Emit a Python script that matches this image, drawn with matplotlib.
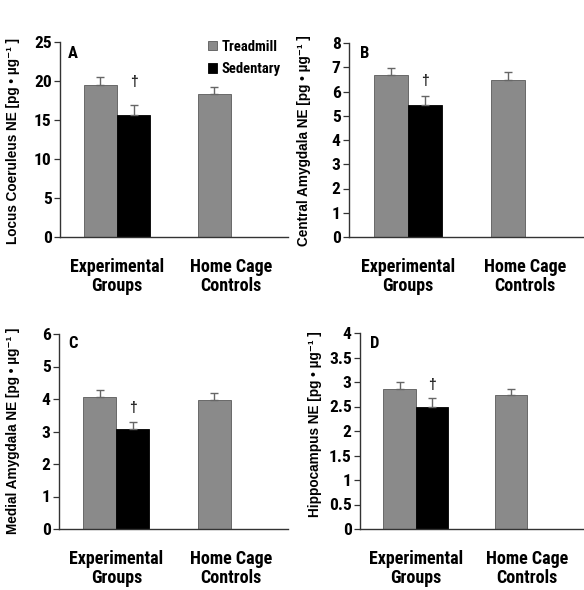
import matplotlib
matplotlib.use("Agg")
import matplotlib.pyplot as plt
from matplotlib.font_manager import FontProperties
import numpy as np

# ---- data -------------------------------------------------------------
groups = ["Experimental\nGroups", "Home Cage\nControls"]
series = ["Treadmill", "Sedentary"]

regions = ["Locus Coeruleus", "Central Amygdala", "Medial Amygdala", "Hippocampus"]
letters = ["A", "B", "C", "D"]
ymax = [25, 8, 6, 4]
ysteps = [5, 1, 1, 0.5]

# mean NE per group; sedentary exists only for the experimental group
treadmill_mean = [[19.5, 18.3], [6.67, 6.49], [4.07, 3.97], [2.85, 2.73]]
treadmill_sem = [[0.95, 0.95], [0.30, 0.31], [0.21, 0.21], [0.15, 0.13]]
sedentary_mean = [15.7, 5.43, 3.09, 2.48]
sedentary_sem = [1.2, 0.37, 0.21, 0.19]

# ---- style ------------------------------------------------------------
W, H = 584, 590
GRAY = "#8a8a8a"
EDGE = "#5a5a5a"
NARROW = ["Roboto Condensed", "Liberation Sans", "DejaVu Sans"]
SANS = ["Liberation Sans", "DejaVu Sans"]
plt.rcParams["font.family"] = NARROW
plt.rcParams["font.weight"] = "bold"
label_font = FontProperties(family=SANS, weight="bold", size=9.8)

# axes boxes in pixels: left, right, top, bottom
boxes = [(60, 288, 42, 237), (349, 584, 43, 237),
         (59, 288, 334, 529), (360, 583, 333, 529)]
ylabel_xy = [(20, 141), (311, 141), (20, 431), (322, 424)]
letter_px = [(68, 46), (360, 46), (68, 336), (370, 336)]
dagger_gap = [12, 6, 5, 4.5]   # points above the sedentary error bar

fig = plt.figure(figsize=(W / 100, H / 100), dpi=100)

bw = 0.29
x = np.arange(len(groups))

for i in range(4):
    l, r, t, b = boxes[i]
    ax = fig.add_axes([l / W, 1 - b / H, (r - l) / W, (b - t) / H])

    tm = treadmill_mean[i]
    te = treadmill_sem[i]
    ax.bar(x - bw / 2, tm, width=bw, color=GRAY, edgecolor=EDGE,
           linewidth=0.6, label=series[0], zorder=2)
    ax.errorbar(x - bw / 2, tm, yerr=[np.zeros(len(tm)), te], fmt="none",
                ecolor="#666666", elinewidth=1.0, capsize=3, capthick=1.0,
                zorder=3)

    sm = [sedentary_mean[i]]
    se = [sedentary_sem[i]]
    xs = x[:1] + bw / 2
    ax.bar(xs, sm, width=bw, color="black", edgecolor="black",
           linewidth=0.6, label=series[1], zorder=2)
    ax.errorbar(xs, sm, yerr=[[0], se], fmt="none", ecolor="#666666",
                elinewidth=1.0, capsize=3, capthick=1.0, zorder=3)

    ax.annotate("\u2020", xy=(xs[0], sm[0] + se[0]),
                xytext=(0, dagger_gap[i]), textcoords="offset points",
                ha="center", va="bottom", fontsize=10, fontweight="bold",
                family=SANS, color="#222222")

    ax.set_xlim(-0.5, 1.5)
    ax.set_ylim(0, ymax[i])
    ticks = np.arange(0, ymax[i] + ysteps[i] / 2, ysteps[i])
    ax.set_yticks(ticks)
    ax.set_yticklabels([f"{v:g}" for v in ticks])
    ax.set_xticks(x)
    ax.set_xticklabels(groups, fontsize=13, linespacing=1.1)

    for s in ("top", "right"):
        ax.spines[s].set_visible(False)
    for s in ("left", "bottom"):
        ax.spines[s].set_linewidth(1.0)
        ax.spines[s].set_color("#333333")
    ax.tick_params(axis="y", direction="out", length=4, width=0.9,
                   color="#333333", labelsize=12.5, pad=2)
    ax.tick_params(axis="x", length=0, pad=15)

    ax.set_ylabel(regions[i] + " NE [pg \u2022 \u00b5g\u207b\u00b9 ]",
                  fontproperties=label_font)
    lx, ly = ylabel_xy[i]
    ax.yaxis.set_label_coords(lx / W, 1 - ly / H, transform=fig.transFigure)

    px, py = letter_px[i]
    fig.text(px / W, 1 - py / H, letters[i], ha="left", va="top",
             fontsize=12)

    if i == 0:
        ax.legend(loc="upper left", bbox_to_anchor=(208 / W, 1 - 40 / H),
                  bbox_transform=fig.transFigure, frameon=False,
                  handlelength=0.6, handleheight=0.6, handletextpad=0.3,
                  labelspacing=0.55, borderpad=0, borderaxespad=0,
                  prop={"family": NARROW, "weight": "bold", "size": 10.5})

fig.savefig("out.png", dpi=100)
